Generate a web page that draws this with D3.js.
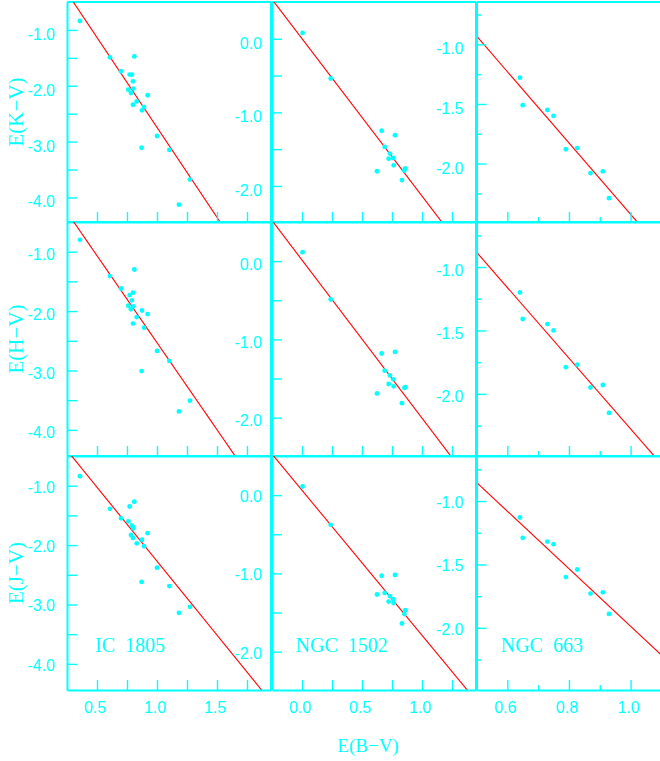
<!DOCTYPE html>
<html>
<head>
<meta charset="utf-8">
<script src="https://cdn.jsdelivr.net/npm/d3@7"></script>
<style>
  html, body { margin: 0; padding: 0; background: #ffffff; }
  svg { display: block; }
</style>
</head>
<body>
<div id="chart"></div>
<script>
// ---------------- DATA ----------------
const clusters = ["IC 1805", "NGC 1502", "NGC 663"];
const rowTitles = ["E(K\u2212V)", "E(H\u2212V)", "E(J\u2212V)"];
const xTitle = "E(B\u2212V)";

// IC 1805
const ebvIC1805 = [0.358,0.608,0.700,0.811,0.772,0.790,0.800,0.761,0.783,0.803,0.922,0.831,0.800,0.892,0.875,1.000,0.872,1.103,1.275,1.183];
const ekvIC1805 = [-0.84,-1.49,-1.74,-1.475,-1.80,-1.80,-1.92,-2.07,-2.13,-2.05,-2.17,-2.28,-2.34,-2.38,-2.44,-2.90,-3.11,-3.15,-3.68,-4.13];
const ehvIC1805 = [-0.80,-1.41,-1.62,-1.30,-1.73,-1.82,-1.69,-1.91,-1.97,-1.92,-2.05,-2.10,-2.21,-2.28,-1.99,-2.67,-3.01,-2.84,-3.51,-3.69];
const ejvIC1805 = [-0.84,-1.39,-1.55,-1.27,-1.35,-1.67,-1.70,-1.60,-1.83,-1.72,-1.80,-1.97,-1.88,-2.02,-1.91,-2.38,-2.62,-2.69,-3.04,-3.14];

// NGC 1502
const ebvNGC1502 = [0.005,0.239,0.664,0.775,0.689,0.733,0.761,0.722,0.764,0.625,0.861,0.853,0.833];
const ekvNGC1502 = [0.08,-0.54,-1.25,-1.31,-1.47,-1.56,-1.62,-1.63,-1.72,-1.80,-1.76,-1.79,-1.92];
const ehvNGC1502 = [0.115,-0.49,-1.18,-1.16,-1.40,-1.46,-1.51,-1.57,-1.60,-1.69,-1.61,-1.62,-1.815];
const ejvNGC1502 = [0.11,-0.38,-1.03,-1.02,-1.25,-1.29,-1.33,-1.36,-1.38,-1.27,-1.47,-1.52,-1.64];

// NGC 663
const ebvNGC663 = [0.641,0.650,0.730,0.750,0.790,0.827,0.870,0.910,0.930];
const ekvNGC663 = [-1.28,-1.51,-1.55,-1.60,-1.88,-1.87,-2.08,-2.065,-2.29];
const ehvNGC663 = [-1.20,-1.41,-1.45,-1.50,-1.79,-1.77,-1.95,-1.93,-2.15];
const ejvNGC663 = [-1.13,-1.29,-1.32,-1.34,-1.60,-1.54,-1.73,-1.72,-1.89];

// fitted lines: intercept and slope, [row][col]
const lineIntercepts = [[0.474, 0.002, 0.565], [0.398, 0.014, 0.511], [0.219, 0.062, 0.280]];
const lineSlopes     = [[-3.22, -2.139, -2.99], [-2.93, -2.02, -2.787], [-2.49, -1.853, -2.267]];

// axes domains and ticks per column
const xDomains = [[0.25, 1.95], [-0.25, 1.45], [0.5, 1.162]];
const yDomains = [[-4.44, -0.5], [-2.49, 0.5], [-2.49, -0.645]];
const xTicks = [[0.5,0.75,1.0,1.25,1.5,1.75], [0.0,0.25,0.5,0.75,1.0,1.25], [0.6,0.7,0.8,0.9,1.0,1.1]];
const xTickLabels = [[0.5,1.0,1.5], [0.0,0.5,1.0], [0.6,0.8,1.0]];
const yTicks = [[-4.0,-3.5,-3.0,-2.5,-2.0,-1.5,-1.0], [-2.0,-1.5,-1.0,-0.5,0.0], [-2.25,-2.0,-1.75,-1.5,-1.25,-1.0,-0.75]];
const yTickLabels = [[-1.0,-2.0,-3.0,-4.0], [0.0,-1.0,-2.0], [-1.0,-1.5,-2.0]];

const xs = [ebvIC1805, ebvNGC1502, ebvNGC663];
const ys = [
  [ekvIC1805, ekvNGC1502, ekvNGC663],
  [ehvIC1805, ehvNGC1502, ehvNGC663],
  [ejvIC1805, ejvNGC1502, ejvNGC663]
];

// ---------------- LAYOUT ----------------
const W = 660, H = 761;
const colX = [67, 272, 476.5], colW = 204;
const rowY = [2, 222, 456], rowH = [220, 234, 234];
const CYAN = "#00ffff", RED = "#ff0000";
const yLabelPad = [12, 10, 13];
const yLabelDy = [9.5, 8, 6.5];

const svg = d3.select("#chart").append("svg").attr("width", W).attr("height", H);
const defs = svg.append("defs");

function isMember(v, arr) { return arr.some(a => Math.abs(a - v) < 1e-9); }

for (let r = 0; r < 3; r++) {
  for (let c = 0; c < 3; c++) {
    const x0 = colX[c], y0 = rowY[r], h = rowH[r];
    const xS = d3.scaleLinear().domain(xDomains[c]).range([0, colW]);
    const yS = d3.scaleLinear().domain(yDomains[c]).range([h, 0]);
    const g = svg.append("g").attr("transform", `translate(${x0},${y0})`);
    const clipId = `clip-${r}-${c}`;
    defs.append("clipPath").attr("id", clipId).append("rect")
      .attr("x", 0).attr("y", 0).attr("width", colW).attr("height", h);

    // frame top & right
    g.append("line").attr("x1", 0).attr("x2", colW).attr("y1", 0).attr("y2", 0)
      .attr("stroke", CYAN).attr("stroke-width", 2);
    g.append("line").attr("x1", colW).attr("x2", colW).attr("y1", 0).attr("y2", h)
      .attr("stroke", CYAN).attr("stroke-width", 2);

    // fitted line
    const a = lineIntercepts[r][c], b = lineSlopes[r][c];
    const xd = xDomains[c];
    g.append("g").attr("clip-path", `url(#${clipId})`)
      .append("line")
      .attr("x1", xS(xd[0])).attr("y1", yS(a + b * xd[0]))
      .attr("x2", xS(xd[1])).attr("y2", yS(a + b * xd[1]))
      .attr("stroke", RED).attr("stroke-width", 1.1);

    // points
    const pts = xs[c].map((v, i) => [v, ys[r][c][i]]);
    g.append("g").selectAll("circle").data(pts).join("circle")
      .attr("cx", d => xS(d[0])).attr("cy", d => yS(d[1]))
      .attr("r", 2.4).attr("fill", CYAN);

    // left axis
    const yAx = d3.axisLeft(yS).tickValues(yTicks[c]).tickSizeInner(-10).tickSizeOuter(0)
      .tickPadding(yLabelPad[c])
      .tickFormat(v => isMember(v, yTickLabels[c]) ? d3.format(".1f")(v).replace("\u2212", "-") : "");
    const ya = g.append("g").call(yAx);
    ya.select(".domain").attr("stroke", CYAN).attr("stroke-width", 2);
    ya.selectAll(".tick line").attr("stroke", CYAN).attr("stroke-width", 1.4)
      .attr("x2", v => (c === 2 && !isMember(v, yTickLabels[c])) ? 5 : 10);
    ya.selectAll(".tick text").attr("fill", CYAN).attr("dy", null).attr("y", yLabelDy[r])
      .style("font-family", "'Liberation Sans', Arial, sans-serif").style("font-size", "16px");

    // bottom axis
    const xAx = d3.axisBottom(xS).tickValues(xTicks[c]).tickSizeInner(-10).tickSizeOuter(0)
      .tickPadding(12)
      .tickFormat(v => (r === 2 && isMember(v, xTickLabels[c])) ? d3.format(".1f")(v) : "");
    const xa = g.append("g").attr("transform", `translate(0,${h})`).call(xAx);
    xa.select(".domain").attr("stroke", CYAN).attr("stroke-width", 2);
    xa.selectAll(".tick line").attr("stroke", CYAN).attr("stroke-width", 1.4)
      .attr("y2", v => (c === 2 && !isMember(v, xTickLabels[c])) ? -5 : -10);
    xa.selectAll(".tick text").attr("fill", CYAN).attr("dx", -2.5)
      .style("font-family", "'Liberation Sans', Arial, sans-serif").style("font-size", "16px");

    // cluster label in bottom row
    if (r === 2) {
      const lx = [28, 23.5, 24.2][c];
      g.append("text").attr("x", lx).attr("y", 195.7)
        .attr("fill", CYAN)
        .style("font-family", "'Liberation Serif', 'Times New Roman', serif")
        .style("font-size", "20px")
        .attr("xml:space", "preserve")
        .text(clusters[c].replace(" ", "\u00a0\u00a0"));
    }
  }
  // row title
  svg.append("text")
    .attr("transform", `translate(23,${rowY[r] + rowH[r] / 2}) rotate(-90)`)
    .attr("text-anchor", "middle").attr("fill", CYAN)
    .style("font-family", "'Liberation Serif', 'Times New Roman', serif")
    .style("font-size", "21px")
    .text(rowTitles[r]);
}

// x title
svg.append("text").attr("x", 368).attr("y", 752).attr("text-anchor", "middle")
  .attr("fill", CYAN)
  .style("font-family", "'Liberation Serif', 'Times New Roman', serif")
  .style("font-size", "19px")
  .text(xTitle);
</script>
</body>
</html>
